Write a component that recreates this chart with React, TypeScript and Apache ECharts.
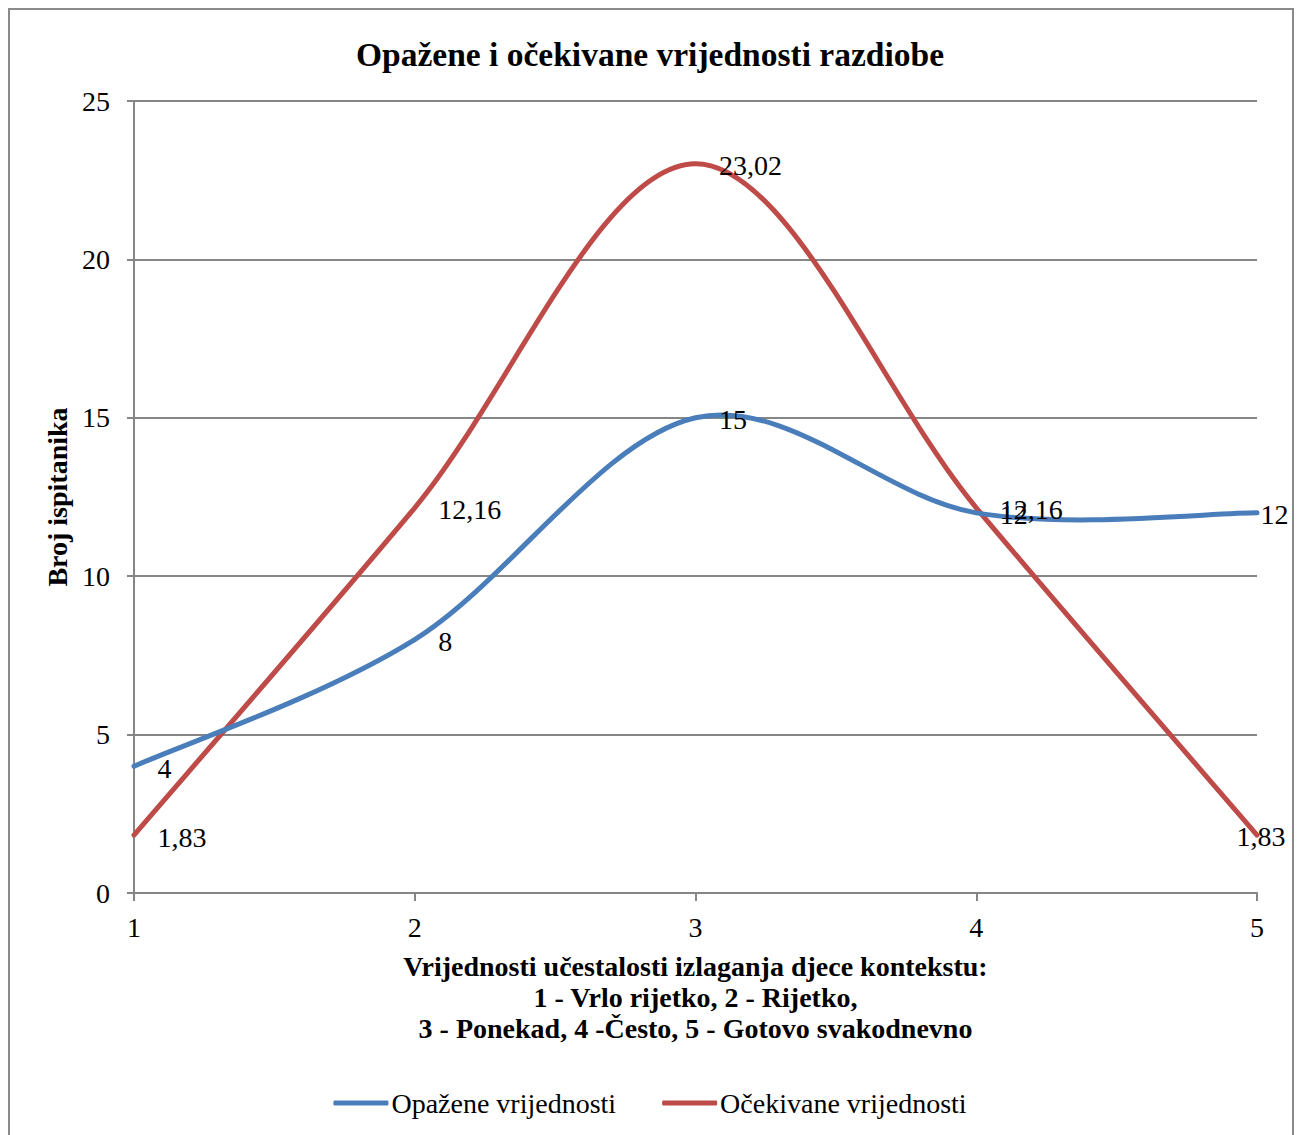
import React, { useEffect, useRef } from "react";
import * as echarts from "echarts";

const categories = ["1", "2", "3", "4", "5"];
const observed = [4, 8, 15, 12, 12];
const expected = [1.83, 12.16, 23.02, 12.16, 1.83];
const seriesNames = ["Opažene vrijednosti", "Očekivane vrijednosti"];
const seriesColors = ["#4A7EBB", "#BE4B48"];
const titleText = "Opažene i očekivane vrijednosti razdiobe";
const xAxisTitle =
  "Vrijednosti učestalosti izlaganja djece kontekstu:\n1 - Vrlo rijetko, 2 - Rijetko,\n3 - Ponekad, 4 -Često, 5 - Gotovo svakodnevno";
const yAxisTitle = "Broj ispitanika";

const FONT = "'Liberation Serif', 'Times New Roman', serif";
const fmt = (v: number) => String(v).replace(".", ",");

// Excel-like smooth curve (Catmull-Rom as cubic Bezier), drawn through the axes' scales
function curveSeries(vals: number[], color: string) {
  return {
    type: "custom",
    silent: true,
    z: 1,
    data: vals.map((v, i) => [i, v]),
    encode: { x: 0, y: 1 },
    renderItem: (params: any, api: any) => {
      if (params.dataIndex !== 0) return null;
      const pts = vals.map((v, i) => api.coord([i, v]));
      const n = pts.length;
      let d = `M${pts[0][0]},${pts[0][1]}`;
      for (let i = 0; i < n - 1; i++) {
        const p0 = pts[Math.max(i - 1, 0)];
        const p1 = pts[i];
        const p2 = pts[i + 1];
        const p3 = pts[Math.min(i + 2, n - 1)];
        const c1 = [p1[0] + (p2[0] - p0[0]) / 6, p1[1] + (p2[1] - p0[1]) / 6];
        const c2 = [p2[0] - (p3[0] - p1[0]) / 6, p2[1] - (p3[1] - p1[1]) / 6];
        d += ` C${c1[0]},${c1[1]} ${c2[0]},${c2[1]} ${p2[0]},${p2[1]}`;
      }
      return {
        type: "path",
        shape: { pathData: d },
        style: { fill: "none", stroke: color, lineWidth: 5, lineCap: "round", lineJoin: "round" },
      };
    },
  };
}

export default function App() {
  const ref = useRef<HTMLDivElement>(null);
  useEffect(() => {
    document.body.style.margin = "0";
    const chart = echarts.init(ref.current!, null, { renderer: "svg" });
    const labelBase = {
      show: true,
      position: "right",
      distance: 23,
      offset: [0, 2],
      fontFamily: FONT,
      fontSize: 28,
      color: "#000",
      formatter: (p: any) => fmt(p.value),
    };
    const mk = (vals: number[], lastLabel: any) =>
      vals.map((v, i) =>
        i === vals.length - 1 ? { value: v, label: lastLabel } : { value: v }
      );
    const labelSeries = (name: string, vals: number[], color: string, lastLabel: any) => ({
      name,
      type: "line",
      data: mk(vals, lastLabel),
      symbol: "circle",
      symbolSize: 1,
      itemStyle: { color },
      lineStyle: { color, width: 5, opacity: 0 },
      label: labelBase,
      z: 3,
    });
    chart.setOption({
      animation: false,
      backgroundColor: "#fff",
      title: {
        text: titleText,
        left: "center",
        top: 32,
        textStyle: { fontFamily: FONT, fontSize: 33.5, fontWeight: "bold", color: "#000" },
      },
      graphic: [
        {
          type: "rect",
          shape: { x: 9, y: 9, width: 1284, height: 1160 },
          style: { fill: "none", stroke: "#8a8a8a", lineWidth: 2 },
          silent: true,
        },
      ],
      legend: {
        top: 1084,
        left: "center",
        icon: "roundRect",
        itemWidth: 55,
        itemHeight: 5,
        itemGap: 46,
        textStyle: { fontFamily: FONT, fontSize: 28, color: "#000", padding: [0, 0, 0, -2] },
        data: seriesNames,
      },
      grid: { left: 134, right: 43, top: 101, bottom: 242, containLabel: false },
      xAxis: {
        type: "category",
        data: categories,
        boundaryGap: false,
        axisLine: { lineStyle: { color: "#868686", width: 2 } },
        axisTick: { show: true, length: 8, lineStyle: { color: "#868686", width: 2 } },
        axisLabel: { fontFamily: FONT, fontSize: 28, color: "#000", margin: 20 },
        name: xAxisTitle,
        nameLocation: "middle",
        nameGap: 58,
        nameTextStyle: {
          fontFamily: FONT,
          fontSize: 28,
          fontWeight: "bold",
          color: "#000",
          lineHeight: 31,
          align: "center",
        },
      },
      yAxis: {
        type: "value",
        min: 0,
        max: 25,
        interval: 5,
        axisLine: { show: true, lineStyle: { color: "#868686", width: 2 } },
        axisTick: { show: true, length: 7, lineStyle: { color: "#868686", width: 2 } },
        axisLabel: { fontFamily: FONT, fontSize: 28, color: "#000", margin: 24 },
        splitLine: { lineStyle: { color: "#868686", width: 2 } },
        name: yAxisTitle,
        nameLocation: "middle",
        nameRotate: 90,
        nameGap: 60,
        nameTextStyle: { fontFamily: FONT, fontSize: 28, fontWeight: "bold", color: "#000" },
      },
      series: [
        curveSeries(expected, seriesColors[1]),
        curveSeries(observed, seriesColors[0]),
        labelSeries(seriesNames[0], observed, seriesColors[0], { position: "right", distance: 3, offset: [0, 2] }),
        labelSeries(seriesNames[1], expected, seriesColors[1], { position: "inside", offset: [4, 1] }),
      ],
    });
    return () => chart.dispose();
  }, []);
  return <div ref={ref} style={{ width: 1300, height: 1135 }} />;
}
